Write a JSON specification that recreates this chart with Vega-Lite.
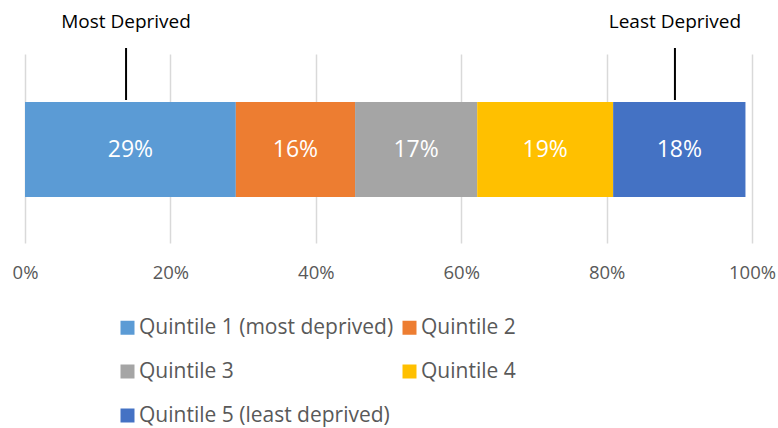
{
  "$schema": "https://vega.github.io/schema/vega-lite/v6.json",
  "width": 727,
  "height": 189,
  "autosize": {"type": "none"},
  "padding": {"left": 25, "top": 54, "right": 26, "bottom": 185},
  "background": "white",
  "config": {"view": {"stroke": null}, "font": "Open Sans"},
  "datasets": {
    "shares": [
      {"quintile": "Quintile 1 (most deprived)", "share": 0.290, "order": 1},
      {"quintile": "Quintile 2", "share": 0.164, "order": 2},
      {"quintile": "Quintile 3", "share": 0.168, "order": 3},
      {"quintile": "Quintile 4", "share": 0.187, "order": 4},
      {"quintile": "Quintile 5 (least deprived)", "share": 0.182, "order": 5}
    ],
    "notes": [
      {"note": "Most Deprived", "pos": 0.139},
      {"note": "Least Deprived", "pos": 0.894}
    ]
  },
  "layer": [
    {
      "data": {"name": "shares"},
      "transform": [
        {"stack": "share", "groupby": [], "sort": [{"field": "order", "order": "ascending"}], "as": ["s0", "s1"]},
        {"calculate": "(datum.s0 + datum.s1) / 2", "as": "mid"}
      ],
      "layer": [
        {
          "mark": {"type": "bar"},
          "encoding": {
            "x": {"field": "s0", "type": "quantitative", "scale": {"domain": [0, 1], "nice": false},
              "axis": {"format": ".0%", "values": [0, 0.2, 0.4, 0.6, 0.8, 1], "title": null, "domain": false, "ticks": false,
                "grid": true, "gridColor": "#d9d9d9", "gridWidth": 1.5, "labelColor": "#595959", "labelFontSize": 18.5,
                "labelPadding": 20, "labelFlush": false, "labelFont": "Open Sans"}},
            "x2": {"field": "s1"},
            "y": {"datum": 7.46, "type": "quantitative", "scale": {"domain": [0, 10], "nice": false, "zero": false}, "axis": null},
            "y2": {"datum": 2.434},
            "color": {"field": "quintile", "type": "nominal",
              "scale": {"domain": ["Quintile 1 (most deprived)", "Quintile 2", "Quintile 3", "Quintile 4", "Quintile 5 (least deprived)"],
                "range": ["#5B9BD5", "#ED7D31", "#A5A5A5", "#FFC000", "#4472C4"]},
              "legend": {"title": null, "orient": "none", "legendX": 92, "legendY": 263, "columns": 2, "direction": "horizontal",
                "symbolType": "square", "symbolSize": 196, "symbolStrokeWidth": 0, "labelFontSize": 21, "labelColor": "#595959",
                "labelFont": "Open Sans", "labelOffset": 1, "rowPadding": 22, "columnPadding": 5, "labelLimit": 400}}
          }
        },
        {
          "mark": {"type": "text", "color": "white", "fontSize": 23, "baseline": "middle", "align": "center"},
          "encoding": {
            "x": {"field": "mid", "type": "quantitative"},
            "y": {"datum": 4.92, "type": "quantitative"},
            "text": {"field": "share", "type": "quantitative", "format": ".0%"}
          }
        }
      ]
    },
    {
      "data": {"name": "notes"},
      "layer": [
        {
          "mark": {"type": "rule", "color": "black", "strokeWidth": 2},
          "encoding": {
            "x": {"field": "pos", "type": "quantitative"},
            "y": {"datum": 10.317, "type": "quantitative"},
            "y2": {"datum": 7.566}
          }
        },
        {
          "mark": {"type": "text", "color": "black", "fontSize": 19, "baseline": "alphabetic", "align": "center"},
          "encoding": {
            "x": {"field": "pos", "type": "quantitative"},
            "y": {"datum": 11.35, "type": "quantitative"},
            "text": {"field": "note", "type": "nominal"}
          }
        }
      ]
    }
  ]
}
